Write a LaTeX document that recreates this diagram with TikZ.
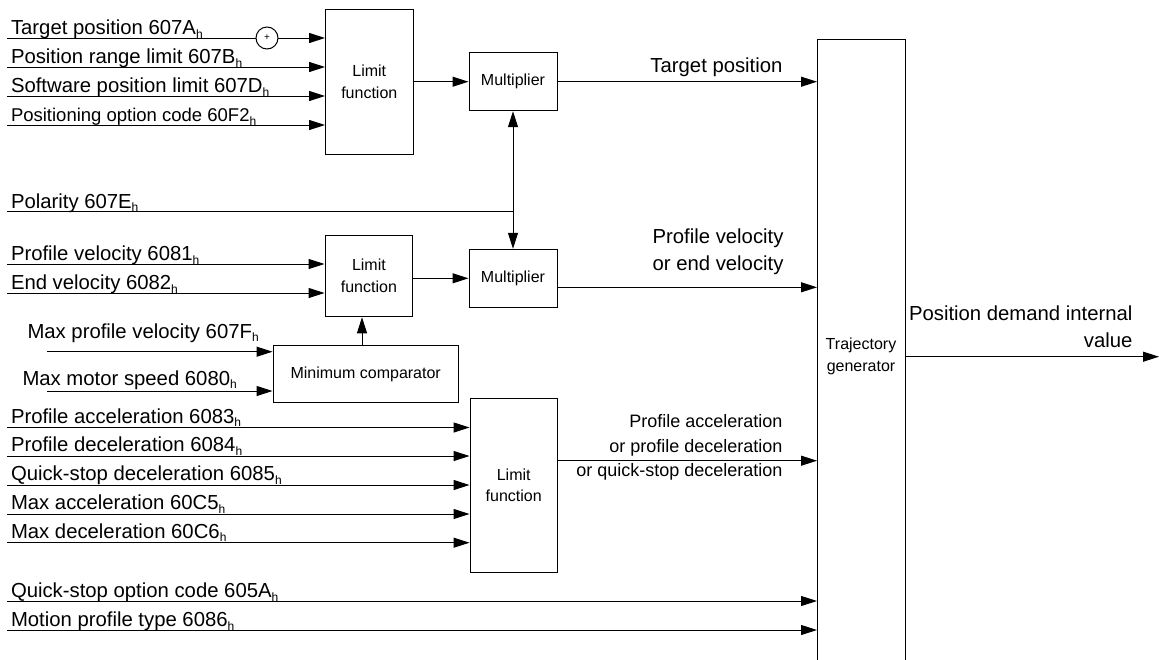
\documentclass[tikz,border=0pt]{standalone}
\usepackage{fontspec}
\setmainfont{Liberation Sans}
\usetikzlibrary{arrows.meta}
\newcommand\hsub{\raisebox{-3.5pt}{\fontsize{12}{12}\selectfont h}}
\begin{document}
\begin{tikzpicture}[x=1pt,y=-1pt,line width=1pt,
  box/.style={draw,inner sep=0pt,align=center,font=\fontsize{16}{21.6}\selectfont},
  lbl/.style={inner sep=0pt,anchor=base west,font=\fontsize{20.3}{24}\selectfont},
  rlbl/.style={inner sep=0pt,anchor=base east,font=\fontsize{20.3}{24}\selectfont},
  alb/.style={inner sep=0pt,anchor=base east,font=\fontsize{18}{22}\selectfont},
  arr/.style={-{Triangle[length=16pt,width=10pt]}},
  darr/.style={{Triangle[length=16pt,width=10pt]}-{Triangle[length=16pt,width=10pt]}}]
\useasboundingbox (0,0) rectangle (1159,659);

% blocks
\node[box,minimum width=87.5pt,minimum height=144.7pt] (lim1) at (369.3,81.7) {Limit\\function};
\node[box,minimum width=88pt,minimum height=58pt] (mul1) at (513,81.7) {Multiplier};
\node[box,minimum width=87.7pt,minimum height=81.7pt] (lim2) at (368.9,275.9) {Limit\\function};
\node[box,minimum width=88pt,minimum height=58pt] (mul2) at (513,278.3) {Multiplier};
\node[box,minimum width=185.3pt,minimum height=57.7pt] (minc) at (365.7,373.9) {Minimum comparator};
\node[box,minimum width=87.3pt,minimum height=174pt] (lim3) at (513.7,485.3) {Limit\\function};
\node[draw,inner sep=0pt,minimum width=88pt,minimum height=640pt,anchor=north west] (traj) at (817,38.5) {};
\node[inner sep=0pt,align=center,font=\fontsize{16}{22}\selectfont] (trajt) at (861,356) {Trajectory\\generator};

% input coordinates
\coordinate (a1) at (7,38);
\coordinate (a2) at (7,67);
\coordinate (a3) at (7,96);
\coordinate (a4) at (7,125);
\coordinate (pol) at (7,211.7);
\coordinate (b1) at (7,264);
\coordinate (b2) at (7,293);
\coordinate (c1) at (47,351.7);
\coordinate (c2) at (47,391);
\coordinate (d1) at (7,427.5);
\coordinate (d2) at (7,456);
\coordinate (d3) at (7,485);
\coordinate (d4) at (7,514);
\coordinate (d5) at (7,542.7);
\coordinate (e1) at (7,601);
\coordinate (e2) at (7,630);
\coordinate (cx) at (362,0);
\coordinate (pvy) at (0,287.3);
\coordinate (acy) at (0,460.7);
\coordinate (pdy) at (1159,356.7);

% connectors
\draw[arr] (a1) -- (a1 -| lim1.west);
\draw[arr] (a2) -- (a2 -| lim1.west);
\draw[arr] (a3) -- (a3 -| lim1.west);
\draw[arr] (a4) -- (a4 -| lim1.west);
\node[circle,draw,fill=white,inner sep=0pt,minimum size=22pt,font=\fontsize{10}{10}\selectfont] (plus) at (267,38) {+};
\draw[arr] (lim1.east) -- (mul1.west);
\draw[arr] (mul1.east) -- (mul1.east -| traj.west);
\draw (pol) -- (pol -| mul1.south);
\draw[darr] (mul1.south) -- (mul2.north);
\draw[arr] (b1) -- (b1 -| lim2.west);
\draw[arr] (b2) -- (b2 -| lim2.west);
\draw[arr] (lim2.east |- mul2.west) -- (mul2.west);
\draw[arr] (mul2.east |- pvy) -- (traj.west |- pvy);
\draw[arr] (c1) -- (c1 -| minc.west);
\draw[arr] (c2) -- (c2 -| minc.west);
\draw[arr] (minc.north -| cx) -- (lim2.south -| cx);
\draw[arr] (d1) -- (d1 -| lim3.west);
\draw[arr] (d2) -- (d2 -| lim3.west);
\draw[arr] (d3) -- (d3 -| lim3.west);
\draw[arr] (d4) -- (d4 -| lim3.west);
\draw[arr] (d5) -- (d5 -| lim3.west);
\draw[arr] (lim3.east |- acy) -- (traj.west |- acy);
\draw[arr] (e1) -- (e1 -| traj.west);
\draw[arr] (e2) -- (e2 -| traj.west);
\draw[arr] (traj.east |- pdy) -- (pdy);

% input labels
\node[lbl] (la1) at (10.5,34.5) {Target position 607A\hsub};
\node[lbl] (la2) at (10.5,63.5) {Position range limit 607B\hsub};
\node[lbl] (la3) at (10.5,92.5) {Software position limit 607D\hsub};
\node[lbl,font=\fontsize{18.5}{22}\selectfont] (la4) at (10.5,121.5) {Positioning option code 60F2\hsub};
\node[lbl] (lpol) at (10.5,208.2) {Polarity 607E\hsub};
\node[lbl] (lb1) at (10.5,260.5) {Profile velocity 6081\hsub};
\node[lbl] (lb2) at (10.5,289.5) {End velocity 6082\hsub};
\node[lbl] (lc1) at (27,338) {Max profile velocity 607F\hsub};
\node[lbl] (lc2) at (22,385) {Max motor speed 6080\hsub};
\node[lbl] (ld1) at (10.5,423) {Profile acceleration 6083\hsub};
\node[lbl] (ld2) at (10.5,451.5) {Profile deceleration 6084\hsub};
\node[lbl] (ld3) at (10.5,480.5) {Quick-stop deceleration 6085\hsub};
\node[lbl] (ld4) at (10.5,509.5) {Max acceleration 60C5\hsub};
\node[lbl] (ld5) at (10.5,538.2) {Max deceleration 60C6\hsub};
\node[lbl] (le1) at (10.5,597.5) {Quick-stop option code 605A\hsub};
\node[lbl] (le2) at (10.5,626.5) {Motion profile type 6086\hsub};

% output labels
\node[rlbl] (ltp) at (783,72.7) {Target position};
\node[rlbl] (lpv1) at (784,243) {Profile velocity};
\node[rlbl] (lpv2) at (784,270) {or end velocity};
\node[alb] (lac1) at (783,427.7) {Profile acceleration};
\node[alb] (lac2) at (783,452.3) {or profile deceleration};
\node[alb] (lac3) at (783,476.7) {or quick-stop deceleration};
\node[rlbl] (lpd1) at (1133,320) {Position demand internal};
\node[rlbl] (lpd2) at (1133,347) {value};
\end{tikzpicture}
\end{document}
